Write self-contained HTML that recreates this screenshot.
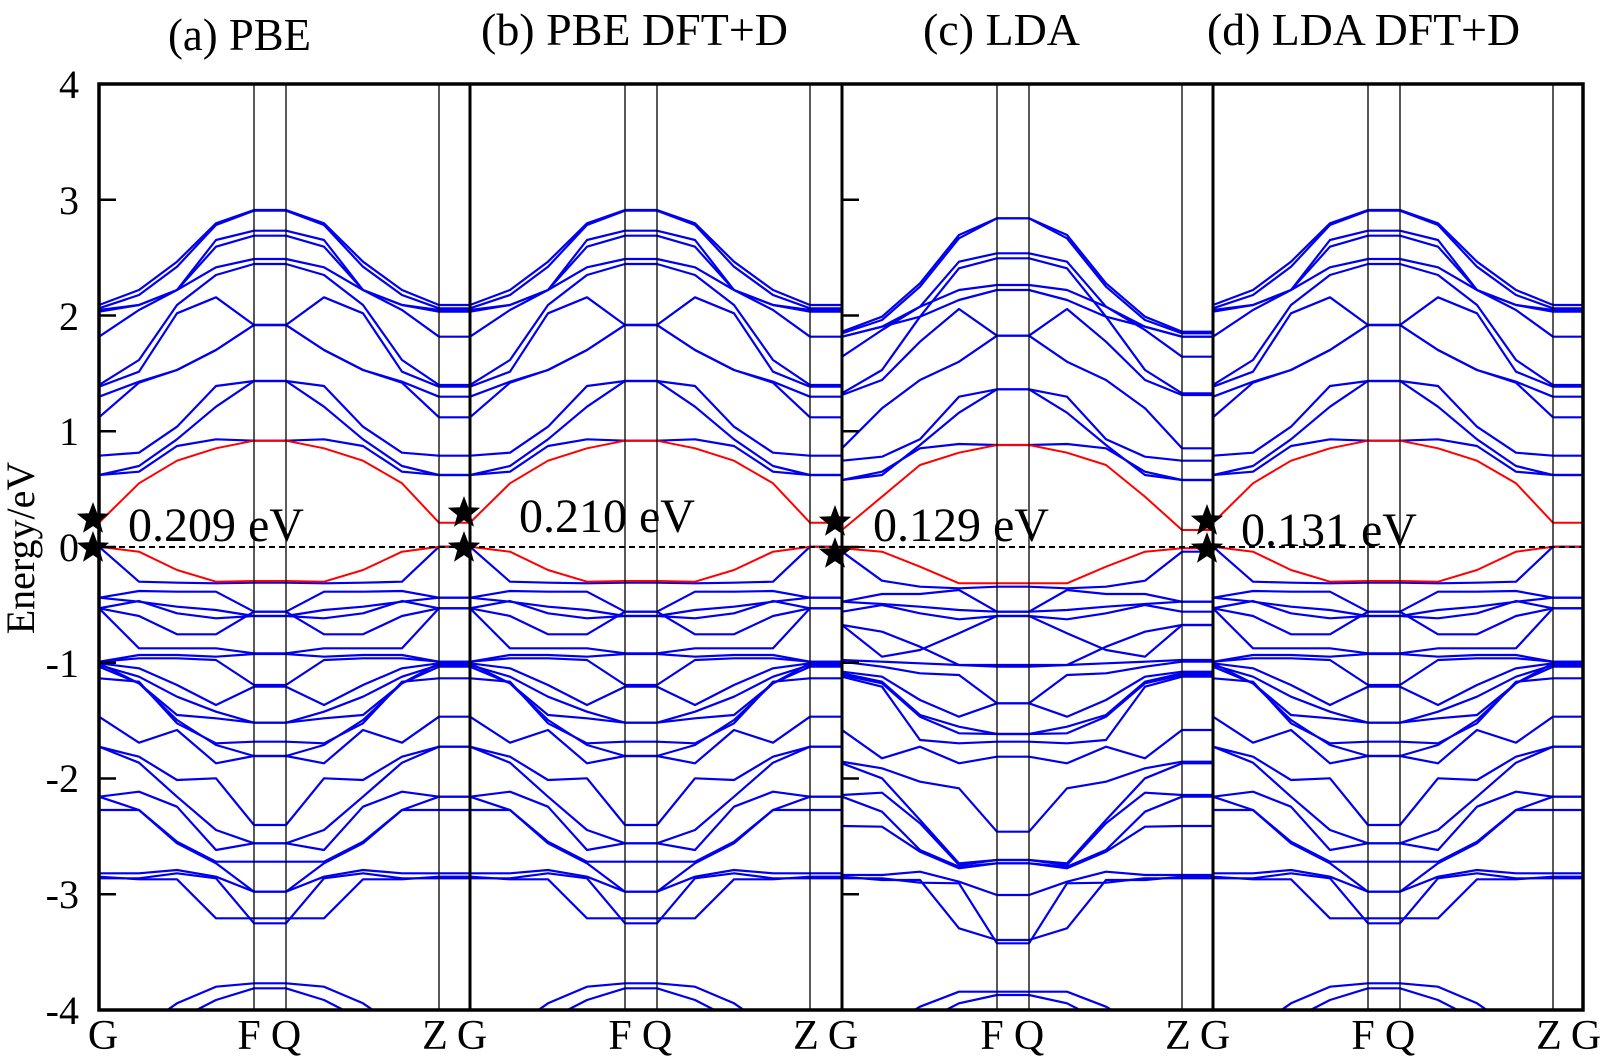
<!DOCTYPE html>
<html><head><meta charset="utf-8">
<style>
html,body{margin:0;padding:0;background:#fff;}
svg{display:block;}
text{font-family:"Liberation Serif",serif;fill:#000;}
</style></head>
<body>
<svg id="s" width="1600" height="1062" viewBox="0 0 1600 1062" xmlns="http://www.w3.org/2000/svg">
<defs>
<clipPath id="cp"><rect x="0" y="84" width="372" height="926"/></clipPath>
</defs>
<g id="bands"></g>
<line x1="99" y1="547" x2="1583" y2="547" stroke="#000" stroke-width="2" stroke-dasharray="6,4"/>
<g id="frame"></g>
<g font-size="46">
<text x="168" y="50" textLength="143" lengthAdjust="spacingAndGlyphs">(a) PBE</text>
<text x="481" y="45" textLength="307" lengthAdjust="spacingAndGlyphs">(b) PBE DFT+D</text>
<text x="923" y="45" textLength="157" lengthAdjust="spacingAndGlyphs">(c) LDA</text>
<text x="1207" y="45" textLength="313" lengthAdjust="spacingAndGlyphs">(d) LDA DFT+D</text>
</g>
<g font-size="40" text-anchor="end">
<text x="79" y="98">4</text>
<text x="79" y="214">3</text>
<text x="79" y="330">2</text>
<text x="79" y="445">1</text>
<text x="79" y="561">0</text>
<text x="79" y="677">-1</text>
<text x="79" y="792">-2</text>
<text x="79" y="908">-3</text>
<text x="79" y="1024">-4</text>
</g>
<text x="0" y="0" font-size="40" text-anchor="middle" transform="translate(34,548) rotate(-90)">Energy/eV</text>
<g font-size="48">
<text x="128" y="541">0.209 eV</text>
<text x="519" y="532">0.210 eV</text>
<text x="873" y="541">0.129 eV</text>
<text x="1241" y="546">0.131 eV</text>
</g>
<g font-size="42" text-anchor="middle" id="xl"></g>
<g id="stars"></g>
</svg>
<script>
const NS="http://www.w3.org/2000/svg";
const X=[0,40,78,117,155,187,225,264,303,340,371];
const PX=[99,470,842,1213];
function pts(v,off){
  const a=[...v,v[4],v[3],v[2],v[1],v[0],v[0]];
  return a.map((z,i)=>X[i]+','+(off+z/3).toFixed(1)).join(' ');
}
const A_top=[[345,300,215,100,60],[355,315,230,105,62],[360,345,300,150,122],[365,345,300,170,137],
[440,360,300,232,207],[585,510,345,255,222],[590,545,370,322,405],[620,575,540,480,405],[682,578,540,480,405],
[797,788,710,588,573],[855,828,748,650,573],[855,845,768,748,752]];
const A_red_top=[998,880,812,775,752];
const A_bot=[[50,155,158,160,158],[203,183,185,185,245],[203,215,230,240,258],[235,213,250,265,258],
[235,258,313,313,245],[235,355,355,355,370],[395,375,375,380,372],[395,385,385,390,465],[400,415,465,525,470],
[405,440,500,545,578],[410,460,555,565,578],[445,455,580,640,635],[400,460,570,645,678],[560,638,600,700,678],
[650,680,750,745,885],[650,698,800,900,940],[800,785,830,960,940],[800,840,935,995,995],[840,840,940,1000,1085],
[1030,1030,1020,1040,1085],[1040,1048,1048,1165,1165],[1045,1045,1030,1045,1180],
[1600,1500,1420,1370,1360],[1600,1550,1470,1410,1375]];
const A_red_bot=[50,65,120,155,153];
const C_top=[[425,380,280,135,85],[430,390,290,145,85],[440,410,350,215,190],[440,410,380,235,205],
[500,420,350,300,285],[610,540,380,330,300],[615,570,455,357,437],[775,655,570,515,437],
[812,800,748,620,598],[870,855,765,668,598],[870,845,775,762,765]];
const C_red_top=[1020,920,825,788,765];
const C_bot=[[65,152,170,175,170],[215,192,192,180,245],[215,222,230,240,245],[245,225,250,268,258],
[285,380,360,310,258],[285,305,350,405,410],[390,395,400,405,405],[395,410,430,435,520],[425,440,510,560,520],
[430,455,555,590,612],[435,460,560,610,612],[440,470,630,640,635],[600,685,650,700,680],[695,715,755,775,905],
[700,745,870,1000,990],[795,788,880,1005,990],[800,845,960,1010,1000],[888,890,965,1015,1000],
[1035,1035,1025,1055,1095],[1040,1050,1050,1195,1230],[1045,1045,1058,1060,1240],
[1600,1500,1430,1385,1385],[1600,1560,1480,1420,1395]];
const C_red_bot=[55,65,110,160,160];
const bands=document.getElementById('bands');
function pl(g,p,c,w){const e=document.createElementNS(NS,'polyline');e.setAttribute('points',p);e.setAttribute('fill','none');
 e.setAttribute('stroke',c);e.setAttribute('stroke-width',w);e.setAttribute('stroke-linejoin','round');g.appendChild(e);}
PX.forEach((px,i)=>{
  const g=document.createElementNS(NS,'g');g.setAttribute('transform','translate('+px+',0)');
  const gi=document.createElementNS(NS,'g');gi.setAttribute('clip-path','url(#cp)');g.appendChild(gi);
  const isC=(i==2);
  const T=isC?C_top:A_top,B=isC?C_bot:A_bot,RT=isC?C_red_top:A_red_top,RB=isC?C_red_bot:A_red_bot;
  T.forEach(v=>pl(gi,pts(v,190),'#0000ee',2.2));
  B.forEach(v=>pl(gi,pts(v,530),'#0000ee',2.2));
  pl(gi,pts(RT,190),'#ff0000',2);
  pl(gi,pts(RB,530),'#ff0000',2);
  bands.appendChild(g);
});
const fr=document.getElementById('frame');
function ln(x1,y1,x2,y2,w){const e=document.createElementNS(NS,'line');e.setAttribute('x1',x1);e.setAttribute('y1',y1);
 e.setAttribute('x2',x2);e.setAttribute('y2',y2);e.setAttribute('stroke','#000');e.setAttribute('stroke-width',w);fr.appendChild(e);}
PX.forEach((px,i)=>{
  [155,187,340].forEach(d=>ln(px+d,84,px+d,1010,1.3));
  if(i>0) ln(px,84,px,1010,3);
  if(i==0||i==2){for(let k=0;k<=8;k++){const y=84+k*115.75;ln(px,y,px+17,y,2.5);}}
});
const r=document.createElementNS(NS,'rect');r.setAttribute('x',99);r.setAttribute('y',84);r.setAttribute('width',1484);
r.setAttribute('height',926);r.setAttribute('fill','none');r.setAttribute('stroke','#000');r.setAttribute('stroke-width',3.5);fr.appendChild(r);
const xl=document.getElementById('xl');
function tx(x,y,s){const e=document.createElementNS(NS,'text');e.setAttribute('x',x);e.setAttribute('y',y);e.textContent=s;xl.appendChild(e);}
tx(103,1049,'G');
PX.forEach(px=>{tx(px+150,1049,'F');tx(px+187,1049,'Q');tx(px+336,1049,'Z');tx(px+373,1049,'G');});
const st=document.getElementById('stars');
function star(cx,cy,R){let p=[];for(let k=0;k<10;k++){const a=-Math.PI/2+k*Math.PI/5;const rr=k%2?R*0.42:R;
 p.push((cx+rr*Math.cos(a)).toFixed(1)+','+(cy+rr*Math.sin(a)).toFixed(1));}
 const e=document.createElementNS(NS,'polygon');e.setAttribute('points',p.join(' '));e.setAttribute('fill','#000');st.appendChild(e);}
[[93,519],[93,548],[464,513],[464,548],[835,522],[835,554],[1207,521],[1207,549]].forEach(s=>star(s[0],s[1],17));
</script>
</body></html>
